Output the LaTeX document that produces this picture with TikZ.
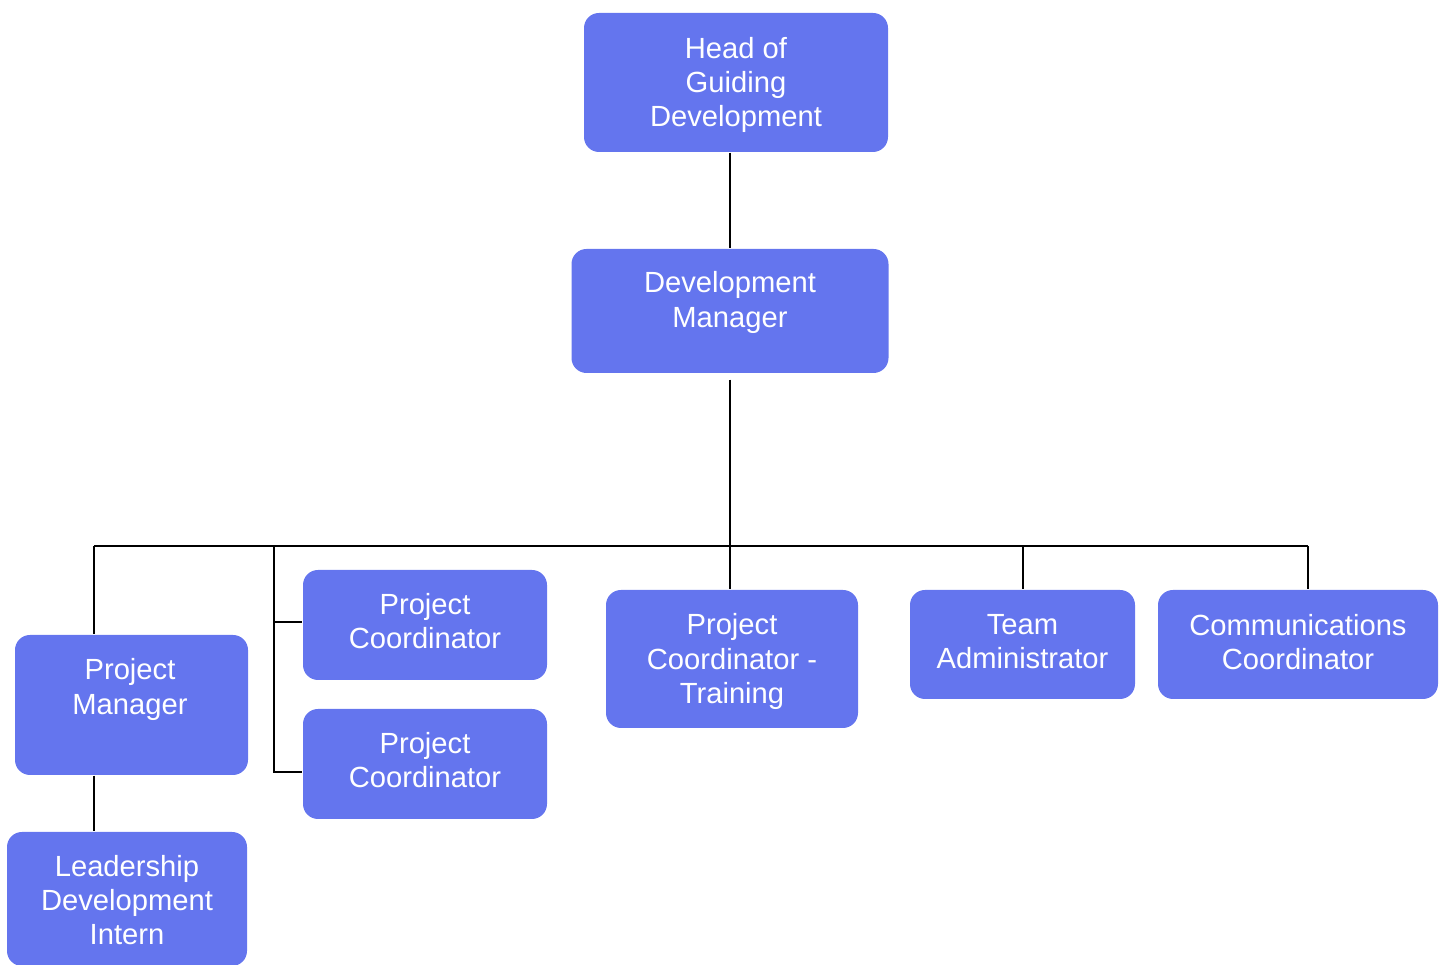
\documentclass[tikz,border=0pt]{standalone}
\usepackage{fontspec}
\setmainfont{Liberation Sans}
\usepackage{xcolor}
\usepackage{tikz}
\definecolor{boxblue}{RGB}{100,117,238}

\begin{document}
\begin{tikzpicture}[
        box/.style={fill=boxblue, rounded corners=0.15cm, inner sep=0pt},
        lbl/.style={text=white, align=center, inner sep=0pt, font=\fontsize{8.3}{9.7}\selectfont},
        conn/.style={line width=0.02cm, black}
    ]
        \useasboundingbox (0,0) rectangle (14.42,9.65);

        % boxes
        \node[box, minimum width=3.04cm, minimum height=1.39cm] (head) at (7.36,8.825) {};
        \node[box, minimum width=3.17cm, minimum height=1.24cm] (dm) at (7.30,6.54) {};
        \node[box, minimum width=2.33cm, minimum height=1.40cm] (pm) at (1.315,2.60) {};
        \node[box, minimum width=2.44cm, minimum height=1.10cm] (pc1) at (4.25,3.40) {};
        \node[box, minimum width=2.44cm, minimum height=1.10cm] (pc2) at (4.25,2.01) {};
        \node[box, minimum width=2.52cm, minimum height=1.38cm] (pct) at (7.32,3.06) {};
        \node[box, minimum width=2.25cm, minimum height=1.09cm] (ta) at (10.225,3.205) {};
        \node[box, minimum width=2.80cm, minimum height=1.09cm] (cc) at (12.98,3.205) {};
        \node[box, minimum width=2.40cm, minimum height=1.34cm] (ldi) at (1.27,0.66) {};

        % labels
        \node[lbl] (head-t) at (7.36,8.80) {Head of\\Guiding\\Development};
        \node[lbl] (dm-t) at (7.30,6.625) {Development\\Manager};
        \node[lbl] (pm-t) at (1.30,2.755) {Project\\Manager};
        \node[lbl] (pc1-t) at (4.25,3.435) {Project\\Coordinator};
        \node[lbl] (pc2-t) at (4.25,2.045) {Project\\Coordinator};
        \node[lbl] (pct-t) at (7.32,3.035) {Project\\Coordinator -\\Training};
        \node[lbl] (ta-t) at (10.225,3.23) {Team\\Administrator};
        \node[lbl] (cc-t) at (12.98,3.23) {Communications\\Coordinator};
        \node[lbl] (ldi-t) at (1.27,0.645) {Leadership\\Development\\Intern};

        % bus
        \coordinate (busL) at (0.94,4.19);
        \coordinate (busR) at (13.08,4.19);
        \coordinate (bus) at (dm.south |- busL);
        \coordinate (spine) at (2.74,4.19);

        % lines
        \draw[conn] (head.south -| dm.south) -- (dm.north);
        \draw[conn] ([yshift=-0.06cm]dm.south) -- (bus);
        \draw[conn] (busL) -- (busR);
        \draw[conn] (busL) -- (busL |- pm.north);
        \draw[conn] (bus) -- (bus |- pct.north);
        \draw[conn] (ta.north |- bus) -- (ta.north);
        \draw[conn] (busR) -- (busR |- cc.north);
        \draw[conn] (spine) |- ([yshift=0.03cm]pc1.west);
        \draw[conn] (spine) |- ([yshift=-0.08cm]pc2.west);
        \draw[conn] (busL |- pm.south) -- (busL |- ldi.north);
    \end{tikzpicture}
\end{document}
